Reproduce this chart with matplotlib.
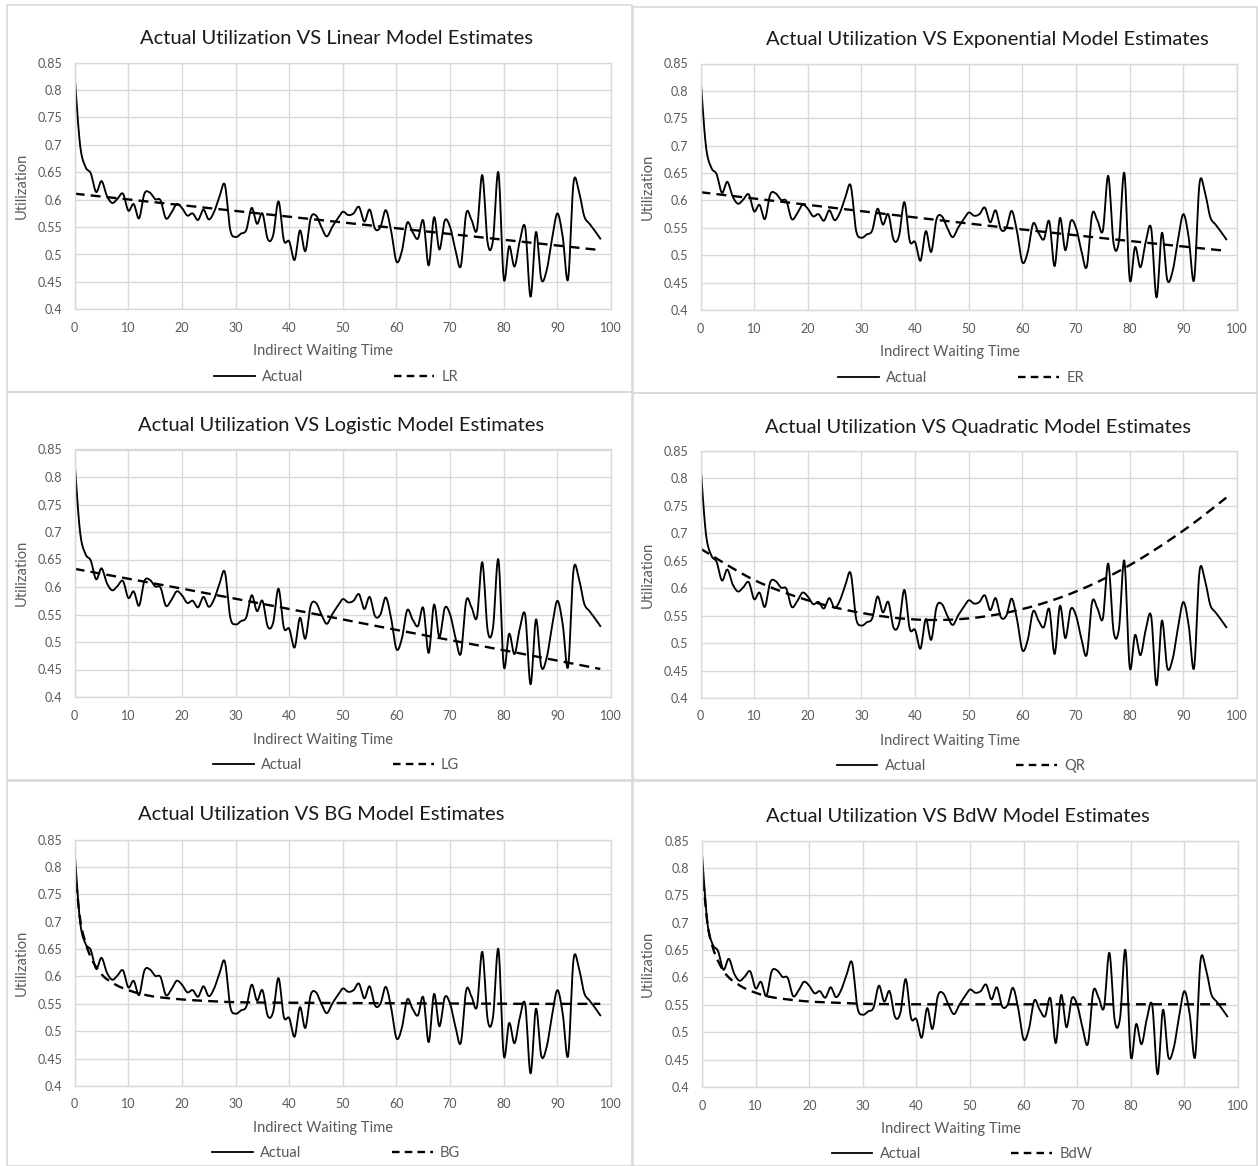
import numpy as np
import matplotlib
matplotlib.use("Agg")
import matplotlib.pyplot as plt
from matplotlib.patches import Rectangle
from matplotlib.lines import Line2D

W, H = 1258, 1166
FONT = ["Lato", "DejaVu Sans"]
plt.rcParams["font.family"] = FONT

# ---- data -------------------------------------------------------------
wait_time = list(range(99))
actual = [0.826, 0.700, 0.660, 0.648, 0.614, 0.634, 0.607, 0.594, 0.602, 0.611,
          0.580, 0.592, 0.566, 0.611, 0.613, 0.601, 0.599, 0.566, 0.576, 0.592,
          0.585, 0.571, 0.575, 0.563, 0.582, 0.564, 0.578, 0.606, 0.627, 0.545,
          0.532, 0.538, 0.545, 0.585, 0.556, 0.575, 0.528, 0.535, 0.597, 0.526,
          0.524, 0.490, 0.544, 0.506, 0.566, 0.571, 0.550, 0.533, 0.550, 0.565,
          0.578, 0.572, 0.575, 0.587, 0.560, 0.582, 0.547, 0.550, 0.581, 0.543,
          0.487, 0.506, 0.558, 0.541, 0.529, 0.562, 0.480, 0.568, 0.509, 0.562,
          0.550, 0.508, 0.479, 0.575, 0.563, 0.545, 0.645, 0.521, 0.526, 0.650,
          0.456, 0.515, 0.478, 0.525, 0.549, 0.423, 0.541, 0.455, 0.471, 0.528,
          0.575, 0.532, 0.455, 0.630, 0.616, 0.570, 0.556, 0.543, 0.529]

lr_x = [0, 98]
lr_est = [0.611, 0.508]
er_x = [0, 20, 40, 60, 80, 98]
er_est = [0.615, 0.592, 0.569, 0.547, 0.526, 0.508]
lg_x = [0, 20, 40, 60, 80, 98]
lg_est = [0.633, 0.597, 0.560, 0.522, 0.485, 0.451]
qr_x = [0, 10, 20, 30, 40, 50, 60, 70, 80, 90, 98]
qr_est = [0.672, 0.615, 0.578, 0.555, 0.543, 0.545, 0.562, 0.594, 0.642, 0.705, 0.765]
bg_x = [0, 1, 2, 3, 4, 5, 6, 8, 10, 12, 15, 20, 25, 30, 40, 60, 80, 98]
bg_est = [0.800, 0.705, 0.662, 0.635, 0.617, 0.604, 0.595, 0.583, 0.575, 0.569,
          0.563, 0.558, 0.555, 0.553, 0.552, 0.551, 0.550, 0.550]
bdw_x = [0, 1, 2, 3, 4, 5, 6, 8, 10, 12, 15, 20, 25, 30, 40, 60, 80, 98]
bdw_est = [0.805, 0.700, 0.655, 0.630, 0.612, 0.600, 0.592, 0.580, 0.572, 0.566,
           0.561, 0.556, 0.554, 0.552, 0.551, 0.551, 0.551, 0.551]

x_ticks = list(range(0, 101, 10))
y_ticks = [0.4, 0.45, 0.5, 0.55, 0.6, 0.65, 0.7, 0.75, 0.8, 0.85]
y_tick_labels = ["0.4", "0.45", "0.5", "0.55", "0.6", "0.65", "0.7", "0.75", "0.8", "0.85"]


def smooth(xs, ys, n=16):
    """Catmull-Rom style Bezier smoothing, as used by spreadsheet 'smoothed line' charts."""
    P = np.column_stack([np.asarray(xs, float), np.asarray(ys, float)])
    if len(P) < 3:
        return P[:, 0], P[:, 1]
    pts = np.vstack([P[0], P, P[-1]])
    t = np.linspace(0, 1, n, endpoint=False)[:, None]
    out = []
    for i in range(len(P) - 1):
        p0, p1, p2, p3 = pts[i], pts[i + 1], pts[i + 2], pts[i + 3]
        c1 = p1 + (p2 - p0) / 6.0
        c2 = p2 - (p3 - p1) / 6.0
        seg = ((1 - t) ** 3) * p1 + 3 * ((1 - t) ** 2) * t * c1 + 3 * (1 - t) * t ** 2 * c2 + t ** 3 * p2
        out.append(seg)
    out.append(P[-1][None, :])
    out = np.vstack(out)
    return out[:, 0], out[:, 1]


fig = plt.figure(figsize=(W / 100, H / 100), dpi=100)


def fx(px):
    return px / W


def fy(py):
    return 1 - py / H


GRID = "#d9d9d9"
TXT = "#595959"

panels = [
    dict(title="Actual Utilization VS Linear Model Estimates", name="LR", mx=lr_x, my=lr_est,
         box=(7, 5, 632, 392), ax=(74.7, 62.7, 611, 309.3), title_xy=(336, 38),
         xlabel_xy=(323, 351), ylabel_x=22, legend_xy=(336, 377)),
    dict(title="Actual Utilization VS Exponential Model Estimates", name="ER", mx=er_x, my=er_est,
         box=(633, 7, 1257, 393), ax=(700.5, 63.5, 1237, 310), title_xy=(987, 40),
         xlabel_xy=(950, 352), ylabel_x=648, legend_xy=(961, 378)),
    dict(title="Actual Utilization VS Logistic Model Estimates", name="LG", mx=lg_x, my=lg_est,
         box=(7, 392, 632, 780), ax=(74.7, 449.5, 611, 697), title_xy=(341, 426),
         xlabel_xy=(323, 740), ylabel_x=22, legend_xy=(336, 765)),
    dict(title="Actual Utilization VS Quadratic Model Estimates", name="QR", mx=qr_x, my=qr_est,
         box=(633, 393, 1257, 780), ax=(700.5, 451, 1237, 698), title_xy=(978, 427),
         xlabel_xy=(950, 741), ylabel_x=648, legend_xy=(961, 766)),
    dict(title="Actual Utilization VS BG Model Estimates", name="BG", mx=bg_x, my=bg_est,
         box=(7, 781, 632, 1166), ax=(74.7, 839.5, 611, 1086), title_xy=(321, 815),
         xlabel_xy=(323, 1128), ylabel_x=22, legend_xy=(336, 1153)),
    dict(title="Actual Utilization VS BdW Model Estimates", name="BdW", mx=bdw_x, my=bdw_est,
         box=(633, 781, 1257, 1166), ax=(702, 840.5, 1238, 1087), title_xy=(958, 816),
         xlabel_xy=(951, 1129), ylabel_x=648, legend_xy=(962, 1154)),
]

ax_x, ax_y = smooth(wait_time, actual)

for p in panels:
    bx0, by0, bx1, by1 = p["box"]
    fig.patches.append(Rectangle((fx(bx0), fy(by1)), fx(bx1 - bx0), (by1 - by0) / H,
                                 transform=fig.transFigure, fill=False,
                                 edgecolor=GRID, lw=1.2, zorder=0))
    l, t, r, b = p["ax"]
    ax = fig.add_axes([fx(l), fy(b), fx(r - l), (b - t) / H])
    ax.set_xlim(0, 100)
    ax.set_ylim(0.4, 0.85)
    ax.set_xticks(x_ticks)
    ax.set_yticks(y_ticks)
    ax.set_yticklabels(y_tick_labels)
    ax.tick_params(length=0, labelsize=9, labelcolor=TXT)
    ax.tick_params(axis="y", pad=9)
    ax.tick_params(axis="x", pad=9)
    ax.grid(True, color=GRID, lw=1.0)
    ax.set_axisbelow(True)
    for s in ax.spines.values():
        s.set_color(GRID)
        s.set_linewidth(1.0)

    ax.plot(ax_x, ax_y, color="black", lw=1.35, solid_joinstyle="round")
    mx, my = smooth(p["mx"], p["my"])
    ax.plot(mx, my, color="black", lw=1.7, linestyle=(0, (4.2, 2.6)))

    fig.text(fx(p["title_xy"][0]), fy(p["title_xy"][1]), p["title"], ha="center", va="center",
             fontsize=14.5, color="#1a1a1a")
    fig.text(fx(p["xlabel_xy"][0]), fy(p["xlabel_xy"][1]), "Indirect Waiting Time",
             ha="center", va="center", fontsize=10.5, color=TXT)
    fig.text(fx(p["ylabel_x"]), fy((t + b) / 2), "Utilization", rotation=90,
             ha="center", va="center", fontsize=10.5, color=TXT)

    handles = [Line2D([], [], color="black", lw=1.3),
               Line2D([], [], color="black", lw=1.7, linestyle=(0, (3.2, 2.2)))]
    fig.legend(handles, ["Actual", p["name"]], loc="center",
               bbox_to_anchor=(fx(p["legend_xy"][0]), fy(p["legend_xy"][1])),
               ncol=2, frameon=False, fontsize=10.5, labelcolor=TXT,
               handlelength=2.8, handletextpad=0.5, columnspacing=6.2)

fig.savefig("out.png", dpi=100, facecolor="white")
